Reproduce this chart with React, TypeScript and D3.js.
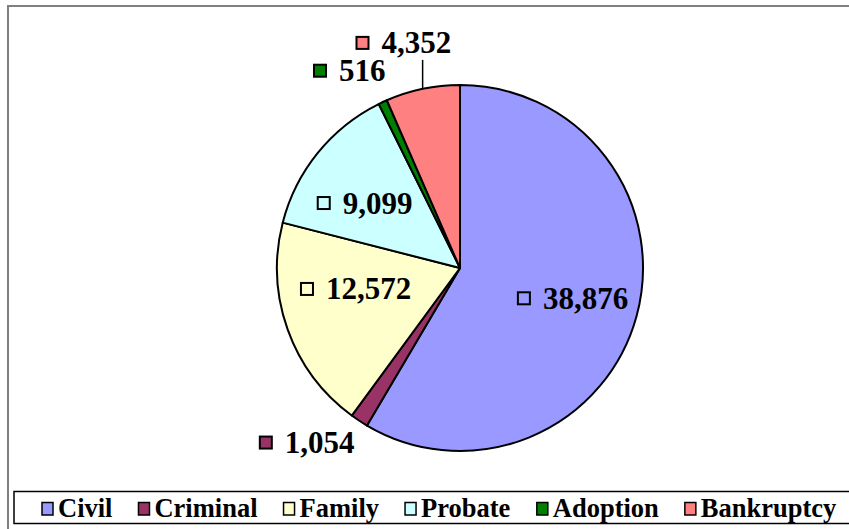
import React from "react";
import * as d3 from "d3";

const categories = ["Civil", "Criminal", "Family", "Probate", "Adoption", "Bankruptcy"];
const values = [38876, 1054, 12572, 9099, 516, 4352];
const colors = ["#9999FF", "#993366", "#FFFFCC", "#CCFFFF", "#008000", "#FF8080"];
// label placement: polar (degrees clockwise from top, radius px) relative to pie centre
const labelAngles = [105, 221.2, 258.6, 304.4, 330.8, 346.0];
const labelRadii = [117, 232, 106, 115, 226, 232];
const leaderFor = [false, false, false, false, false, true];

const W = 849;
const H = 529;
const CX = 460;
const CY = 268;
const R = 183;
const FONT = "Liberation Serif";

// Times/Liberation Serif Bold advance widths (per em)
const CW: Record<string, number> = {
  C: 0.722, i: 0.278, v: 0.5, l: 0.278, r: 0.444, m: 0.833, n: 0.556, a: 0.5,
  F: 0.611, y: 0.5, P: 0.611, o: 0.5, b: 0.556, t: 0.333, e: 0.444, A: 0.722,
  d: 0.556, p: 0.556, B: 0.667, k: 0.556, u: 0.556, c: 0.444, ",": 0.25,
};
const textWidth = (s: string, fs: number) =>
  s.split("").reduce((acc, ch) => acc + (CW[ch] ?? 0.5), 0) * fs;

export default function App() {
  const data = categories.map((c, i) => ({ c, v: values[i], color: colors[i] }));
  const pie = d3.pie<any>().value((d: any) => d.v).sort(null);
  const arcs = pie(data);
  const arc = d3.arc<any>().innerRadius(0).outerRadius(R);
  const fmt = d3.format(",");

  const fs = 31;
  const sq = 12;
  const gap = 13;

  const labels = arcs.map((a: any, i: number) => {
    const ang = (labelAngles[i] * Math.PI) / 180;
    const lx = CX + labelRadii[i] * Math.sin(ang);
    const ly = CY - labelRadii[i] * Math.cos(ang);
    const txt = fmt(values[i]);
    const tw = textWidth(txt, fs);
    const x0 = lx - (sq + gap + tw) / 2;
    const mid = (a.startAngle + a.endAngle) / 2;
    return {
      txt, lx, ly, x0,
      px: CX + R * Math.sin(mid),
      py: CY - R * Math.cos(mid),
      color: colors[i],
      leader: leaderFor[i],
    };
  });

  const lfs = 26.5;
  const legBase = 517;
  let cursor = 42;
  const legend = categories.map((c, i) => {
    const x = cursor;
    cursor = x + 16 + textWidth(c, lfs) + 26;
    return { c, x, color: colors[i] };
  });

  return (
    <svg width={W} height={H} style={{ position: "absolute", left: 0, top: 0, background: "#fff" }}>
      <rect x={8} y={6} width={900} height={600} fill="none" stroke="#808080" strokeWidth={2} />
      <g transform={`translate(${CX},${CY})`}>
        {arcs.map((a: any, i: number) => (
          <path key={i} d={arc(a) as string} fill={a.data.color} stroke="#000" strokeWidth={2} strokeLinejoin="round" />
        ))}
      </g>
      {labels.map((l, i) => (
        <g key={i}>
          {l.leader && (
            <line x1={l.px} y1={l.py} x2={l.px} y2={l.ly + 17} stroke="#000" strokeWidth={1.5} />
          )}
          <rect x={l.x0} y={l.ly - sq / 2} width={sq} height={sq} fill={l.color} stroke="#000" strokeWidth={2} />
          <text x={l.x0 + sq + gap} y={l.ly + fs * 0.34} fontFamily={FONT} fontWeight="bold" fontSize={fs} fill="#000">
            {l.txt}
          </text>
        </g>
      ))}
      <rect x={14} y={491.5} width={900} height={32} fill="#fff" stroke="#000" strokeWidth={1.5} />
      {legend.map((l, i) => (
        <g key={i}>
          <rect x={l.x} y={502.5} width={11} height={12.5} fill={l.color} stroke="#000" strokeWidth={1.5} />
          <text x={l.x + 16} y={legBase} fontFamily={FONT} fontWeight="bold" fontSize={lfs} fill="#000">
            {l.c}
          </text>
        </g>
      ))}
    </svg>
  );
}
